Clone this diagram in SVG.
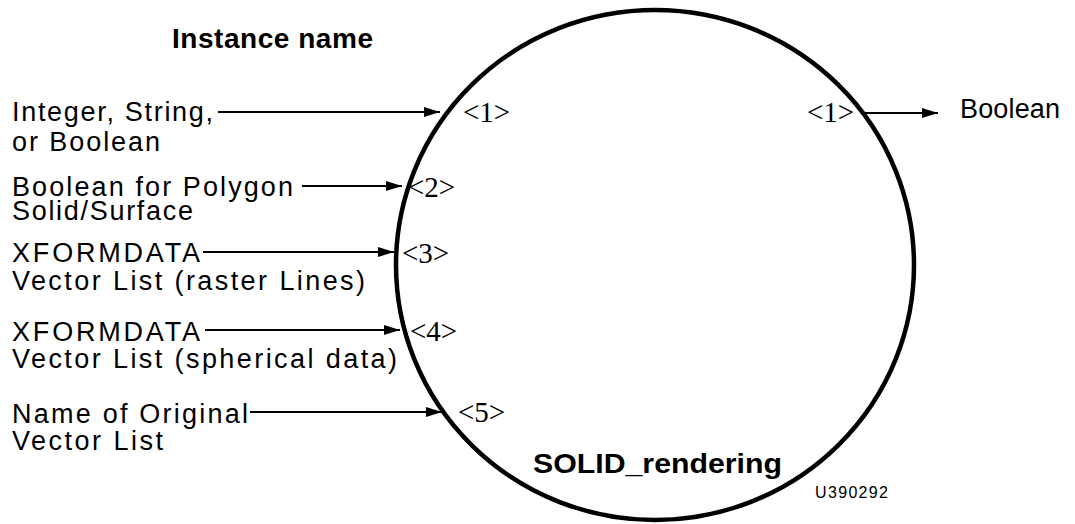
<svg xmlns="http://www.w3.org/2000/svg" width="1075" height="524" viewBox="0 0 1075 524">
<style>
.lbl{font-family:"Liberation Sans",Arial,sans-serif;font-size:27px;fill:#000}
.bold{font-family:"Liberation Sans",Arial,sans-serif;font-size:28px;font-weight:bold;fill:#000}
.port{font-family:"Liberation Serif","Times New Roman",serif;font-size:29px;fill:#000}
.small{font-family:"Liberation Sans",Arial,sans-serif;font-size:16px;fill:#000}
.conn{stroke:#000;stroke-width:2;fill:none;marker-end:url(#ah)}
</style>
<defs>
<marker id="ah" viewBox="0 0 16 10" refX="16" refY="5" markerWidth="16" markerHeight="10" markerUnits="userSpaceOnUse" orient="auto">
<path d="M0,0 L16,5 L0,10 Z" fill="#000"/>
</marker>
</defs>
<rect width="1075" height="524" fill="#fff"/>
<g id="node-solid-rendering">
<ellipse cx="655" cy="265" rx="259" ry="255" fill="none" stroke="#000" stroke-width="4.5"/>
<text class="bold" x="533" y="473" textLength="249" lengthAdjust="spacingAndGlyphs">SOLID_rendering</text>
<text class="port" x="463" y="122">&lt;1&gt;</text>
<text class="port" x="408" y="197">&lt;2&gt;</text>
<text class="port" x="402" y="263">&lt;3&gt;</text>
<text class="port" x="410" y="341">&lt;4&gt;</text>
<text class="port" x="458" y="422">&lt;5&gt;</text>
<text class="port" x="807" y="122">&lt;1&gt;</text>
</g>
<g id="node-instance-name">
<text class="bold" x="172" y="48" textLength="201" lengthAdjust="spacing">Instance name</text>
</g>
<g id="node-in1">
<text class="lbl" x="12" y="121" textLength="201" lengthAdjust="spacing">Integer, String,</text>
<text class="lbl" x="12" y="151" textLength="148" lengthAdjust="spacing">or Boolean</text>
</g>
<g id="node-in2">
<text class="lbl" x="12" y="196" textLength="281" lengthAdjust="spacing">Boolean for Polygon</text>
<text class="lbl" x="12" y="220" textLength="181" lengthAdjust="spacing">Solid/Surface</text>
</g>
<g id="node-in3">
<text class="lbl" x="12" y="262" textLength="188" lengthAdjust="spacing">XFORMDATA</text>
<text class="lbl" x="12" y="290" textLength="353" lengthAdjust="spacing">Vector List (raster Lines)</text>
</g>
<g id="node-in4">
<text class="lbl" x="12" y="341" textLength="188" lengthAdjust="spacing">XFORMDATA</text>
<text class="lbl" x="12" y="368" textLength="385" lengthAdjust="spacing">Vector List (spherical data)</text>
</g>
<g id="node-in5">
<text class="lbl" x="12" y="423" textLength="236" lengthAdjust="spacing">Name of Original</text>
<text class="lbl" x="12" y="450" textLength="151" lengthAdjust="spacing">Vector List</text>
</g>
<g id="node-out">
<text class="lbl" x="960" y="118" textLength="100" lengthAdjust="spacing">Boolean</text>
</g>
<g id="node-code">
<text class="small" x="815" y="498" textLength="73" lengthAdjust="spacing">U390292</text>
</g>
<g id="connectors">
<line class="conn" x1="218" y1="112" x2="440" y2="112"/>
<line class="conn" x1="302" y1="186" x2="402" y2="186"/>
<line class="conn" x1="203" y1="252" x2="394" y2="252"/>
<line class="conn" x1="205" y1="330" x2="400" y2="330"/>
<line class="conn" x1="250" y1="412" x2="442" y2="412"/>
<line class="conn" x1="863" y1="113" x2="938" y2="113"/>
</g>
</svg>
